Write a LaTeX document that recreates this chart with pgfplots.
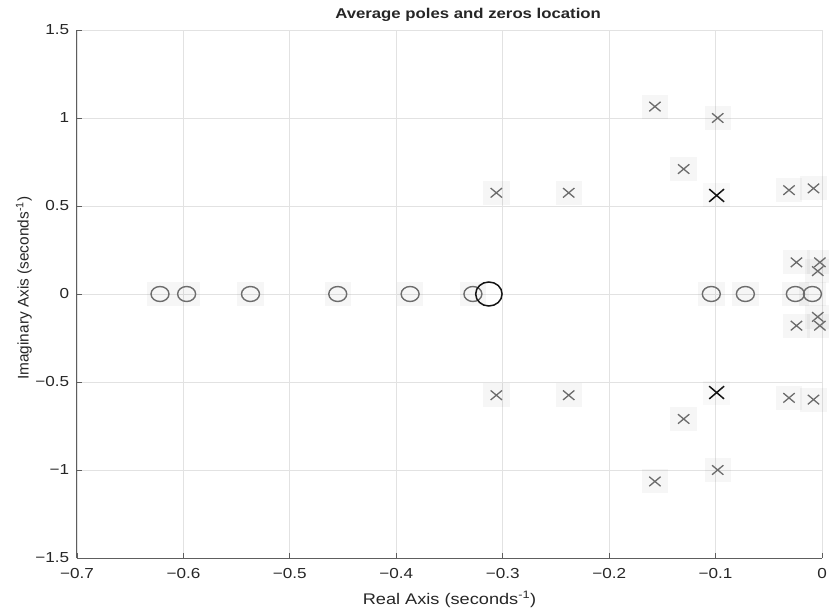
\documentclass[border=0pt]{standalone}
\usepackage{pgfplots}
\pgfplotsset{compat=1.18}
\usepackage{fontspec}
\setmainfont{Liberation Sans}[FakeStretch=1.18]
\newfontfamily\ylabfont{Liberation Sans}
\definecolor{txt}{HTML}{262626}
\definecolor{axc}{HTML}{5e5e5e}
\definecolor{grd}{HTML}{e2e2e2}
\definecolor{mk}{HTML}{6c6c6c}
\definecolor{mkb}{HTML}{141414}

\pgfplotstableread{
x y
-0.622 0
-0.597 0
-0.537 0
-0.455 0
-0.387 0
-0.328 0
-0.104 0
-0.072 0
-0.025 0
-0.009 0
}\zerosgray

\pgfplotstableread{
x y
-0.313 0
}\zerosblack

\pgfplotstableread{
x y
-0.157 1.065
-0.157 -1.065
-0.098 1.0
-0.098 -1.0
-0.130 0.71
-0.130 -0.71
-0.306 0.575
-0.306 -0.575
-0.238 0.575
-0.238 -0.575
-0.031 0.59
-0.031 -0.59
-0.008 0.6
-0.008 -0.6
-0.024 0.18
-0.024 -0.18
-0.002 0.18
-0.002 -0.18
-0.004 0.13
-0.004 -0.13
}\polesgray

\pgfplotstableread{
x y
-0.099 0.56
-0.099 -0.56
}\polesblack

\begin{document}
\begin{tikzpicture}
\begin{axis}[
  name=ax,
  width=745pt, height=528pt, scale only axis,
  xmin=-0.7, xmax=0, ymin=-1.5, ymax=1.5,
  axis x line=bottom, axis y line=left,
  axis line style={-, axc, line width=1pt},
  tick align=inside, major tick length=5pt,
  tick style={axc, line width=0.8pt},
  xtick={-0.7,-0.6,-0.5,-0.4,-0.3,-0.2,-0.1,0},
  xticklabels={−0.7,−0.6,−0.5,−0.4,−0.3,−0.2,−0.1,0},
  ytick={-1.5,-1,-0.5,0,0.5,1,1.5},
  yticklabels={−1.5,−1,−0.5,0,0.5,1,1.5},
  grid=major, major grid style={grd, line width=0.8pt},
  ticklabel style={font=\fontsize{14.5}{16}\selectfont, text=txt},
  xticklabel style={anchor=base, yshift=-20.5pt},
  yticklabel style={anchor=east, xshift=-4.3pt},
  title={Average poles and zeros location},
  title style={at={(axis description cs:0.525,1)}, anchor=base, yshift=5pt,
    font=\bfseries\fontsize{14.2}{16}\selectfont, text=txt},
  xlabel={Real Axis (seconds\textsuperscript{-1})},
  xlabel style={at={(axis description cs:0.5,0)}, anchor=base, yshift=-46pt,
    font=\fontsize{15.4}{17}\selectfont, text=txt},
  ylabel={\ylabfont Imaginary Axis (seconds\textsuperscript{-1})},
  ylabel style={at={(axis description cs:0,0.511)}, anchor=center, rotate=0, yshift=53pt,
    font=\fontsize{15.4}{17}\selectfont, text=txt},
  shadow/.style={only marks, mark=square*, mark size=12pt, draw opacity=0, fill=black, fill opacity=#1,
    mark options={draw=none, draw opacity=0, fill=black, fill opacity=#1, xscale=1.1}},
]
% faint shadows behind markers
\addplot[shadow=0.035] table {\zerosgray};
\addplot[shadow=0.035] table {\polesgray};
\addplot[shadow=0.025] table {\polesblack};
% zeros
\addplot[only marks, mk, mark=o, mark size=7.5pt,
  mark options={line width=1.4pt, xscale=1.2}] table {\zerosgray};
\addplot[only marks, mkb, mark=o, mark size=12pt,
  mark options={line width=1.5pt, xscale=1.1}] table {\zerosblack};
% poles
\addplot[only marks, mk, mark=x, mark size=6.7pt,
  mark options={line width=1.3pt, xscale=1.2}] table {\polesgray};
\addplot[only marks, mkb, mark=x, mark size=9pt,
  mark options={line width=1.5pt, xscale=1.17}] table {\polesblack};
\end{axis}
\pgfresetboundingbox
\path[use as bounding box] ([xshift=-77pt,yshift=-53pt]ax.south west) rectangle ([xshift=7pt,yshift=30pt]ax.north east);
\end{tikzpicture}
\end{document}
